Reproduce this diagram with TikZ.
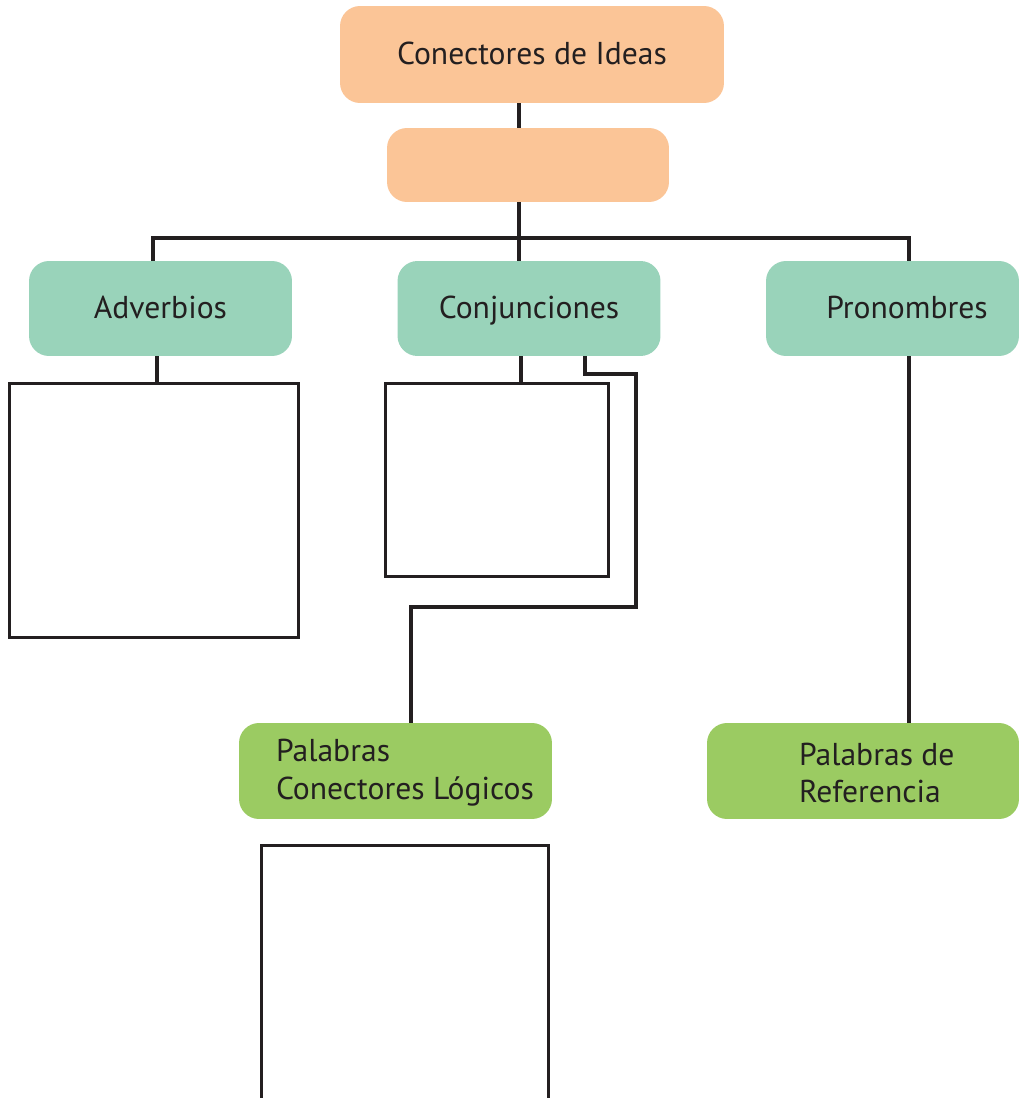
\documentclass[tikz,border=0pt]{standalone}
\usepackage{fontspec}
\setmainfont{PT Sans}
\usetikzlibrary{positioning}

\definecolor{peach}{HTML}{FBC597}
\definecolor{mint}{HTML}{99D3BA}
\definecolor{lime}{HTML}{9BCB62}
\definecolor{ink}{HTML}{231F20}

\begin{document}
\begin{tikzpicture}[x=0.02cm, y=-0.02cm,
        box/.style = {rounded corners=0.4cm, inner sep=0pt, text=ink,
                      font=\fontsize{18}{21.5}\selectfont},
        word/.style = {text height=0.42cm, text depth=0pt},
        blank/.style = {draw=ink, line width=1.7pt, inner sep=0pt},
        link/.style = {draw=ink, line width=2.1pt}]
    \useasboundingbox (0,0) rectangle (1019,1098);
    \clip (0,0) rectangle (1019,1098);

    % top of the tree
    \node[box, word, fill=peach, minimum width=7.68cm, minimum height=1.94cm] (ideas) at (532,54.5) {Conectores de Ideas};
    \node[box, fill=peach, minimum width=5.64cm, minimum height=1.48cm] (tipos) at (528,165) {};

    % three kinds
    \node[box, word, fill=mint, minimum width=5.26cm, minimum height=1.9cm] (adverbios) at (160.5,308.5) {Adverbios};
    \node[box, word, fill=mint, minimum width=5.26cm, minimum height=1.9cm] (conj) at (529,308.5) {Conjunciones};
    \node[box, fill=mint, minimum width=5.06cm, minimum height=1.9cm] (pron) at (892.5,308.5) {};
    \node[box, word] (pronT) at (907,308.5) {Pronombres};

    % empty boxes
    \node[blank, minimum width=5.8cm, minimum height=5.1cm] (advList) at (154,510.5) {};
    \node[blank, minimum width=4.48cm, minimum height=3.88cm] (conjList) at (497,480) {};
    \node[blank, minimum width=5.76cm, minimum height=6.2cm] (logList) at (405,1000) {};

    % words
    \node[box, fill=lime, minimum width=6.26cm, minimum height=1.92cm] (logicos) at (395.5,771) {};
    \node[box, anchor=west, align=left] (logicosT) at ([xshift=0.74cm,yshift=-0.04cm]logicos.west) {Palabras\\Conectores Lógicos};
    \node[box, fill=lime, minimum width=6.24cm, minimum height=1.92cm] (referencia) at (863,771) {};
    \node[box, anchor=west, align=left] (referenciaT) at ([xshift=1.84cm,yshift=-0.04cm]referencia.west) {Palabras de\\Referencia};

    % connectors
    \coordinate (trunk) at (519,238);
    \coordinate (barL) at (153,238);
    \coordinate (barR) at (909,238);
    \coordinate (bendA) at (636,374);
    \coordinate (bendB) at (411,607);
    \draw[link] (ideas.south -| trunk) -- (tipos.north -| trunk);
    \draw[link] (tipos.south -| trunk) -- (trunk);
    \draw[link] (barL |- adverbios.north) -- (barL) -- (barR) -- (barR |- pron.north);
    \draw[link] (trunk) -- (trunk |- conj.north);
    \draw[link] ([xshift=-0.07cm]adverbios.south) -- ([xshift=-0.07cm]adverbios.south |- advList.north);
    \draw[link] ([xshift=-0.16cm]conj.south) -- ([xshift=-0.16cm]conj.south |- conjList.north);
    \draw[link] ([xshift=1.12cm]conj.south) |- (bendA) |- (bendB) -- (bendB |- logicos.north);
    \draw[link] (barR |- pron.south) -- (barR |- referencia.north);
\end{tikzpicture}
\end{document}
